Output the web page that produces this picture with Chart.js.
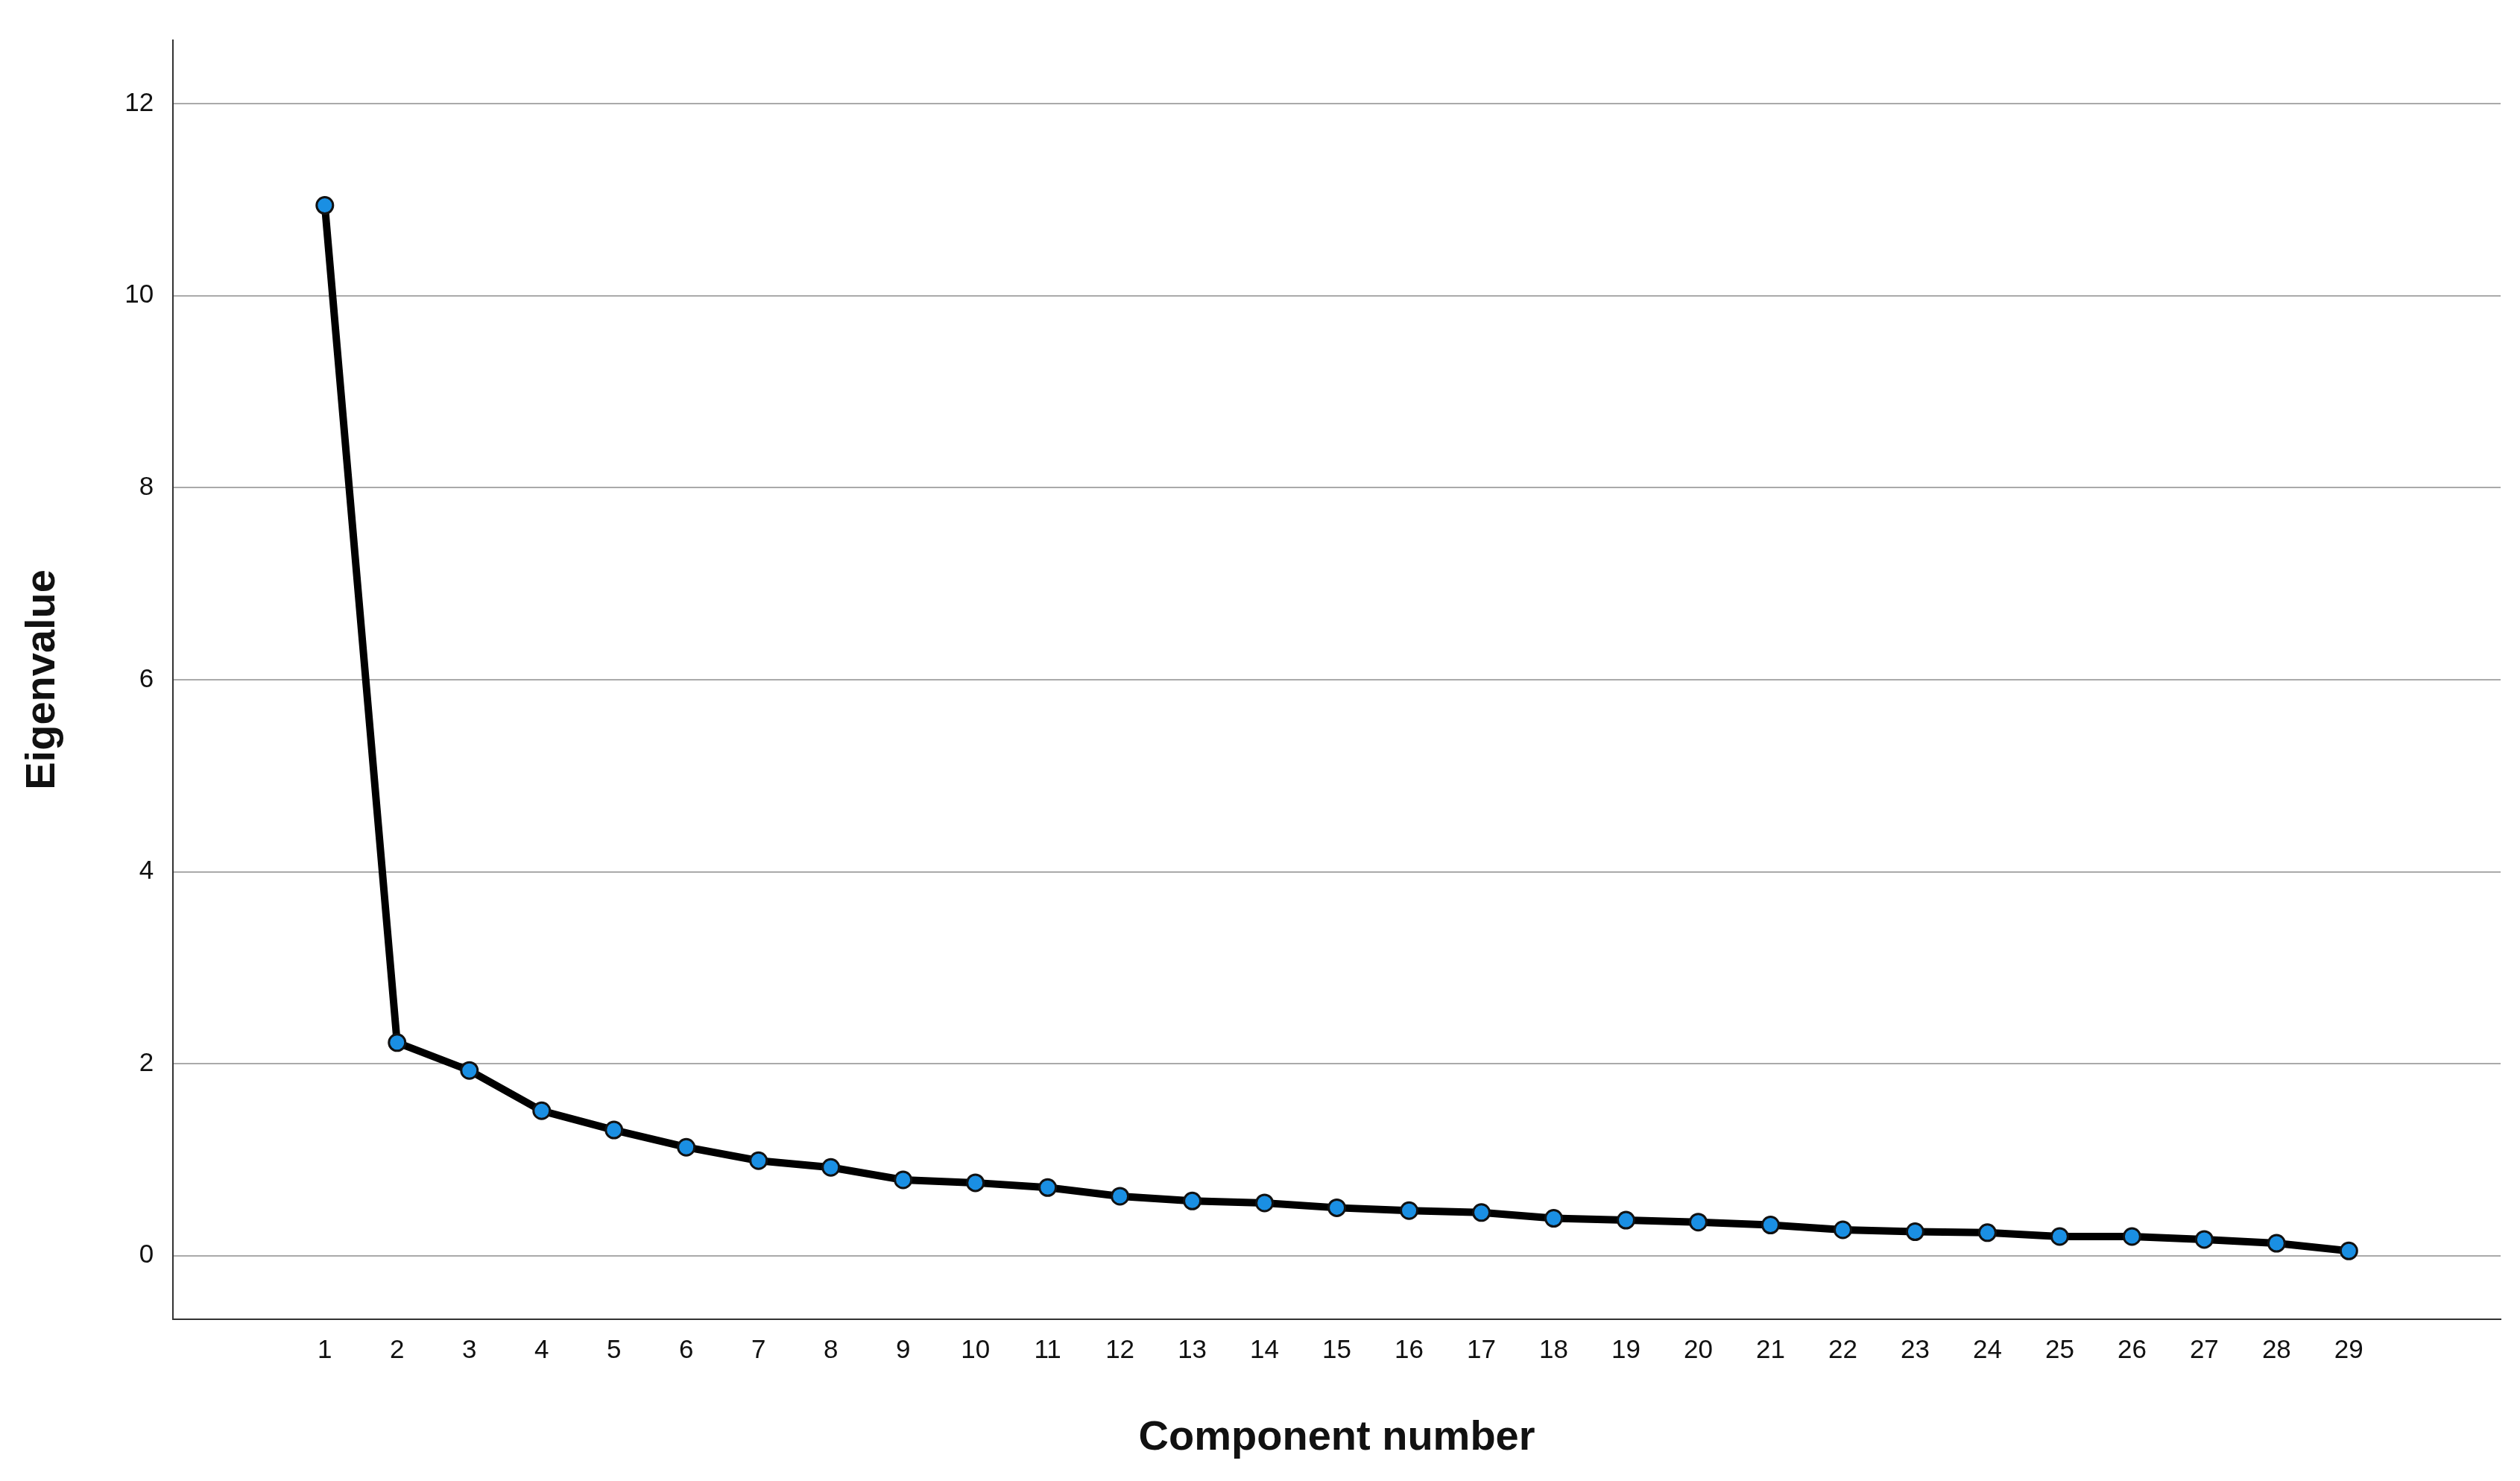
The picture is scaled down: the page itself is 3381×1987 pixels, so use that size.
<!DOCTYPE html>
<html>
<head>
<meta charset="utf-8">
<script src="https://cdn.jsdelivr.net/npm/chart.js@4/dist/chart.umd.min.js"></script>
<style>
  html, body { margin: 0; padding: 0; background: #fff; }
  #wrap { width: 3381px; height: 1987px; }
</style>
</head>
<body>
<div id="wrap"><canvas id="chart"></canvas></div>
<script>
const components = [1,2,3,4,5,6,7,8,9,10,11,12,13,14,15,16,17,18,19,20,21,22,23,24,25,26,27,28,29];
const eigenvalues = [10.94,2.22,1.93,1.51,1.31,1.13,0.99,0.92,0.79,0.76,0.71,0.62,0.57,0.55,0.50,0.47,0.45,0.39,0.37,0.35,0.32,0.27,0.25,0.24,0.20,0.20,0.17,0.13,0.05];
const yTicks = [0,2,4,6,8,10,12];

new Chart(document.getElementById("chart"), {
  type: "line",
  data: {
    datasets: [{
      data: components.map((c, i) => ({ x: c, y: eigenvalues[i] })),
      borderColor: "#000",
      borderWidth: 10,
      pointRadius: 11,
      pointBorderWidth: 3,
      pointBackgroundColor: "#1a8fe3",
      pointBorderColor: "#111",
      tension: 0,
    }],
  },
  options: {
    responsive: true,
    maintainAspectRatio: false,
    animation: false,
    layout: { padding: { top: 54, right: 26, left: 20, bottom: 20 } },
    plugins: { legend: { display: false }, tooltip: { enabled: false } },
    scales: {
      x: {
        type: "linear",
        min: -1.1,
        max: 31.1,
        afterBuildTicks: (axis) => { axis.ticks = components.map((v) => ({ value: v })); },
        grid: { display: false, drawTicks: false },
        border: { color: "#333", width: 2 },
        ticks: { font: { family: "Arial, Liberation Sans", size: 35 }, color: "#111", padding: 22, autoSkip: false, maxRotation: 0 },
        title: { display: true, text: "Component number", font: { family: "Arial, Liberation Sans", size: 56, weight: "bold" }, color: "#111", padding: { top: 40 } },
      },
      y: {
        min: -0.66,
        max: 12.66,
        afterBuildTicks: (axis) => { axis.ticks = yTicks.map((v) => ({ value: v })); },
        grid: { color: "#aaa", lineWidth: 2, drawTicks: false },
        border: { color: "#333", width: 2 },
        ticks: { font: { family: "Arial, Liberation Sans", size: 35 }, color: "#111", padding: 26 },
        title: { display: true, text: "Eigenvalue", font: { family: "Arial, Liberation Sans", size: 56, weight: "bold" }, color: "#111", padding: { bottom: 50 } },
      },
    },
  },
});
</script>
</body>
</html>
